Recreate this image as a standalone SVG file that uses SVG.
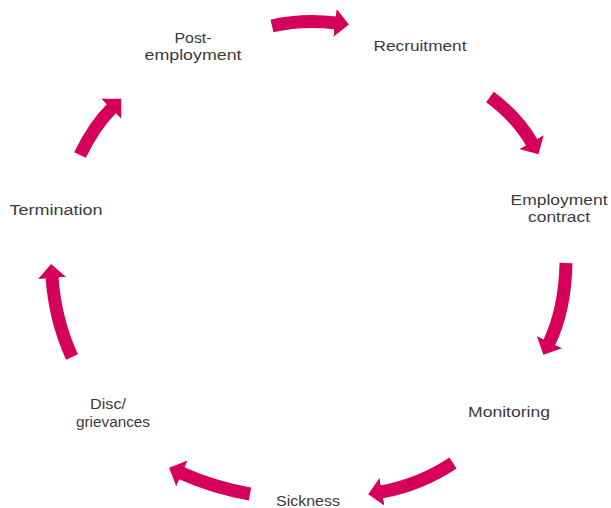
<svg xmlns="http://www.w3.org/2000/svg" width="611" height="508" viewBox="0 0 611 508">
<defs>
<style>
.lbl{font-family:"Liberation Sans",Arial,sans-serif;font-size:14px;fill:#3a3a3a;text-anchor:middle}
.arr{fill:none;stroke:#d6005b;stroke-width:13;stroke-linecap:butt;marker-end:url(#head)}
</style>
<marker id="head" markerUnits="userSpaceOnUse" markerWidth="16" markerHeight="28" refX="1" refY="14" orient="auto">
<path d="M0,0 L14,14 L0,28 Z" fill="#d6005b"/>
</marker>
</defs>
<rect width="611" height="508" fill="#ffffff"/>
<g id="connectors">
<path class="arr" d="M272,26 Q302,19 336,23"/>
<path class="arr" d="M490,97 Q517,117 532,143"/>
<path class="arr" d="M566,263 Q565,310 549,343"/>
<path class="arr" d="M453,463 Q420,485 381,492"/>
<path class="arr" d="M250,494 Q215,488 181,473"/>
<path class="arr" d="M72,357 Q55,320 52,277"/>
<path class="arr" d="M80,155 Q94,126 112,108"/>
</g>
<g id="post-employment"><text class="lbl" x="193" y="43" textLength="37" lengthAdjust="spacingAndGlyphs">Post-</text><text class="lbl" x="193" y="60" textLength="97" lengthAdjust="spacingAndGlyphs">employment</text></g>
<g id="recruitment"><text class="lbl" x="420" y="51" textLength="93" lengthAdjust="spacingAndGlyphs">Recruitment</text></g>
<g id="employment-contract"><text class="lbl" x="559" y="205" textLength="97" lengthAdjust="spacingAndGlyphs">Employment</text><text class="lbl" x="559" y="222" textLength="62" lengthAdjust="spacingAndGlyphs">contract</text></g>
<g id="monitoring"><text class="lbl" x="509" y="417" textLength="82" lengthAdjust="spacingAndGlyphs">Monitoring</text></g>
<g id="sickness"><text class="lbl" x="308" y="506" textLength="64" lengthAdjust="spacingAndGlyphs">Sickness</text></g>
<g id="disc-grievances"><text class="lbl" x="108" y="409" textLength="36" lengthAdjust="spacingAndGlyphs">Disc/</text><text class="lbl" x="113" y="427" textLength="74" lengthAdjust="spacingAndGlyphs">grievances</text></g>
<g id="termination"><text class="lbl" x="56" y="215" textLength="93" lengthAdjust="spacingAndGlyphs">Termination</text></g>
</svg>
